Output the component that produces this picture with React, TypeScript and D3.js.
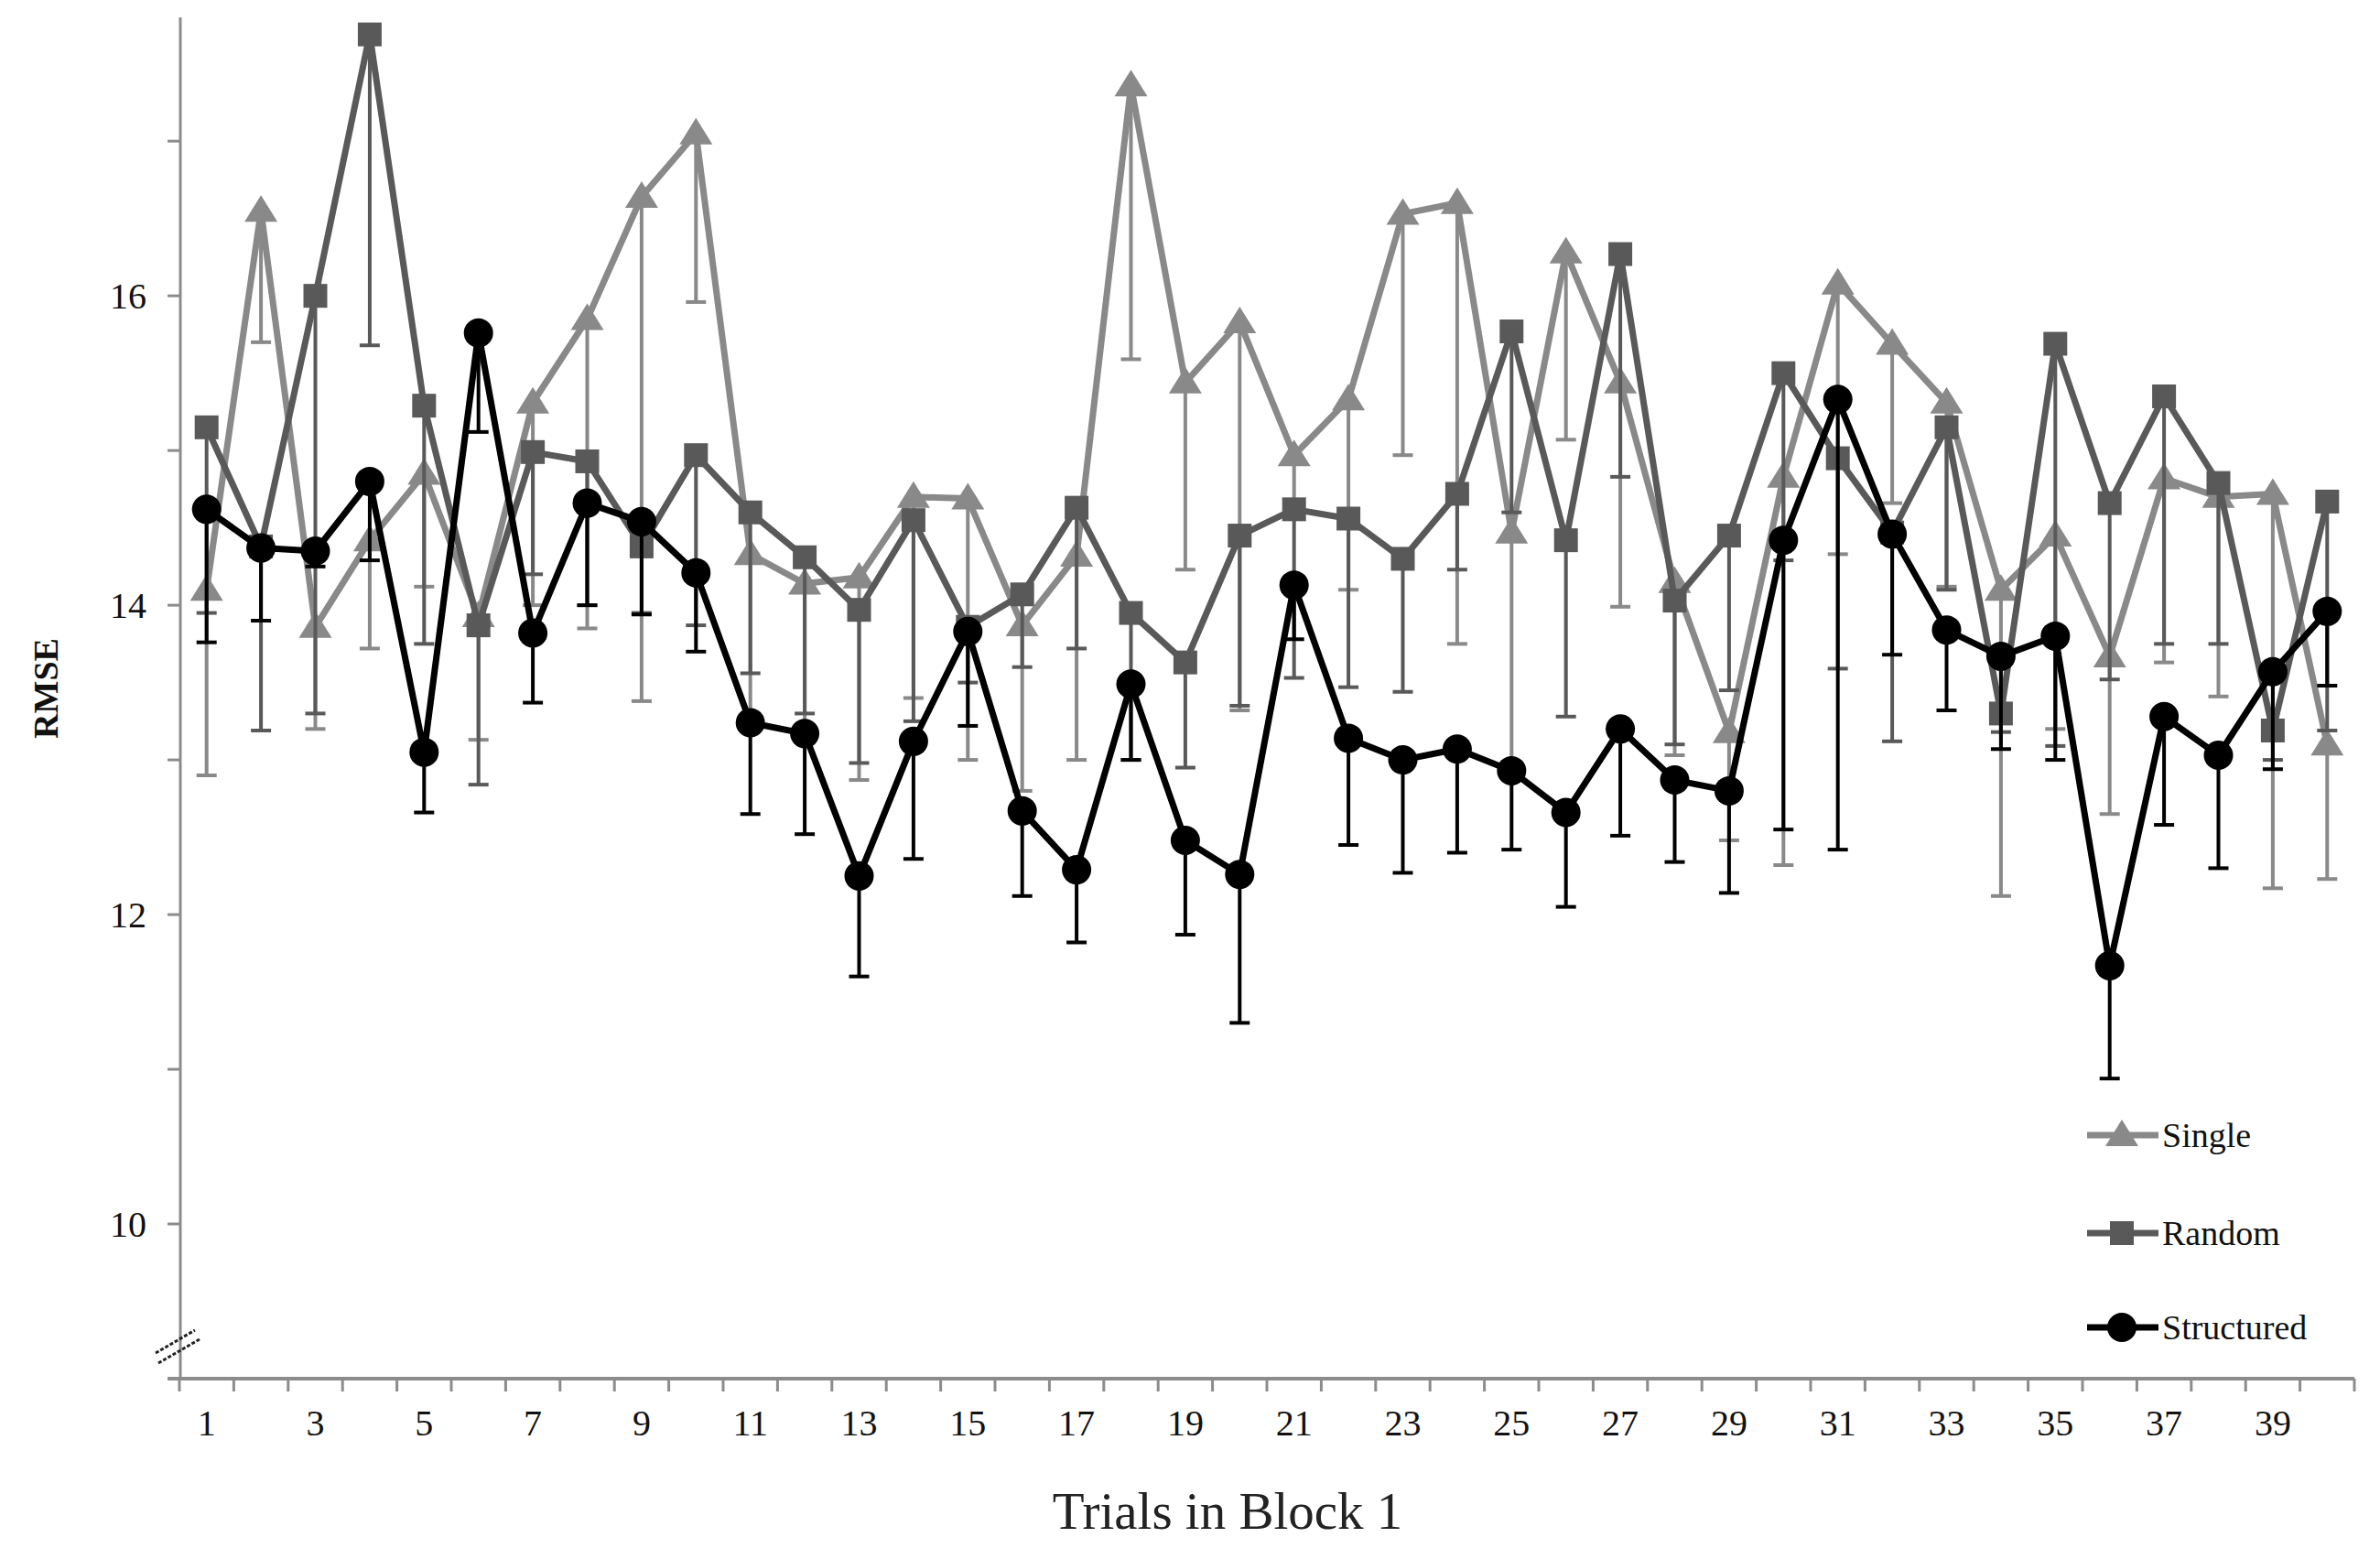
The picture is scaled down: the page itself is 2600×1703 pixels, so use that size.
import * as d3 from "d3";

const trials = d3.range(1, 41).map(String);

const single = [
  14.1, 16.55, 13.86, 14.42, 14.85, 13.93, 15.31, 15.85, 16.64, 17.05,
  14.33, 14.14, 14.18, 14.7, 14.69, 13.87, 14.32, 17.36, 15.44, 15.83,
  14.97, 15.33, 16.53, 16.6, 14.47, 16.28, 15.44, 14.15, 13.18, 14.83,
  16.08, 15.69, 15.31, 14.1, 14.45, 13.67, 14.82, 14.7, 14.72, 13.1,
];
const singleLow = [
  12.9, 15.7, 13.2, 13.72, 14.12, 13.13, 14.0, 13.85, 13.38, 15.96,
  13.3, 13.2, 12.87, 13.4, 13.0, 12.8, 13.0, 15.59, 14.23, 13.32,
  14.6, 14.1, 14.97, 13.75, 12.95, 15.07, 13.99, 13.03, 12.48, 12.32,
  14.33, 14.66, 14.12, 12.12, 13.2, 12.65, 13.63, 13.41, 12.17, 12.23,
];

const random = [
  15.15, 14.38, 16.0, 17.69, 15.29, 13.87, 14.99, 14.93, 14.38, 14.97,
  14.6, 14.31, 13.97, 14.55, 13.86, 14.07, 14.63, 13.95, 13.63, 14.45,
  14.62, 14.56, 14.3, 14.72, 15.77, 14.42, 16.27, 14.03, 14.45, 15.5,
  14.95, 14.47, 15.15, 13.3, 15.69, 14.66, 15.35, 14.79, 13.19, 14.67,
];
const randomLow = [
  13.95, 13.19, 13.3, 15.68, 13.75, 12.84, 14.2, 14.0, 13.95, 13.87,
  13.56, 13.3, 12.98, 13.25, 13.5, 13.6, 13.72, 13.0, 12.95, 13.35,
  13.53, 13.47, 13.44, 14.23, 14.6, 13.28, 14.83, 13.1, 13.45, 14.29,
  13.59, 13.12, 14.1, 13.18, 13.09, 13.52, 13.75, 13.75, 13.0, 13.19,
];

const structured = [
  14.62, 14.37, 14.35, 14.8, 13.05, 15.76, 13.82, 14.66, 14.54, 14.21,
  13.24, 13.17, 12.25, 13.12, 13.83, 12.67, 12.29, 13.49, 12.48, 12.26,
  14.13, 13.14, 13.0, 13.07, 12.93, 12.66, 13.2, 12.87, 12.8, 14.42,
  15.33, 14.46, 13.84, 13.67, 13.8, 11.67, 13.28, 13.03, 13.57, 13.96,
];
const structuredLow = [
  13.76, 13.9, 14.25, 14.29, 12.66, 15.12, 13.37, 14.0, 13.94, 13.7,
  12.65, 12.52, 11.6, 12.36, 13.22, 12.12, 11.82, 13.0, 11.87, 11.3,
  13.78, 12.45, 12.27, 12.4, 12.42, 12.05, 12.51, 12.34, 12.14, 12.55,
  12.42, 13.68, 13.32, 13.07, 13.0, 10.94, 12.58, 12.3, 12.94, 13.48,
];

const yTicks = [10, 11, 12, 13, 14, 15, 16, 17];
const yLabels = [10, 12, 14, 16];

type Series = {
  name: string;
  values: number[];
  low: number[];
  color: string;
  marker: "triangle" | "square" | "circle";
};

const series: Series[] = [
  { name: "Single", values: single, low: singleLow, color: "#898989", marker: "triangle" },
  { name: "Random", values: random, low: randomLow, color: "#595959", marker: "square" },
  { name: "Structured", values: structured, low: structuredLow, color: "#000000", marker: "circle" },
];

const W = 2600;
const H = 1703;
const FONT = "'Liberation Serif', 'Times New Roman', serif";

function Marker({ type, x, y, color }: { type: string; x: number; y: number; color: string }) {
  if (type === "triangle")
    return <path d={`M${x - 18},${y + 12}L${x + 18},${y + 12}L${x},${y - 17}Z`} fill={color} />;
  if (type === "square")
    return <rect x={x - 13} y={y - 13} width={26} height={26} fill={color} />;
  return <circle cx={x} cy={y} r={16} fill={color} />;
}

export default function App() {
  const x = d3.scaleBand().domain(trials).range([196, 2572]);
  const y = d3.scaleLinear().domain([9, 17.8]).range([1506, 19]);
  const cx = (t: string) => (x(t) as number) + x.bandwidth() / 2;

  const line = d3
    .line<number>()
    .x((_d, i) => cx(trials[i]))
    .y((d) => y(d));

  // tick marks sit between the categories, Excel style
  const boundaries = d3.range(0, trials.length + 1).map((i) => 196 + i * x.step());

  const legendRows = [1240, 1347, 1450];

  return (
    <svg
      width={W}
      height={H}
      viewBox={`0 0 ${W} ${H}`}
      style={{ position: "absolute", left: 0, top: 0, background: "#fff" }}
      fontFamily={FONT}
    >
      <rect width={W} height={H} fill="#fff" />

      {/* y axis */}
      <line x1={197} x2={197} y1={y(17.8)} y2={y(9)} stroke="#8c8c8c" strokeWidth={3} />
      {yTicks.map((t) => (
        <line key={t} x1={183} x2={197} y1={y(t)} y2={y(t)} stroke="#8c8c8c" strokeWidth={3} />
      ))}
      {yLabels.map((t) => (
        <text key={t} x={160} y={y(t)} dy="0.35em" textAnchor="end" fontSize={40} fill="#111">
          {t}
        </text>
      ))}
      <text
        transform={`translate(50,752) rotate(-90)`}
        textAnchor="middle"
        dy="0.35em"
        fontSize={38}
        fontWeight="bold"
        fill="#111"
      >
        RMSE
      </text>

      {/* axis break */}
      <line x1={170} x2={213} y1={1478} y2={1453} stroke="#222" strokeWidth={3} strokeDasharray="4 2" />
      <line x1={173} x2={218} y1={1489} y2={1463} stroke="#222" strokeWidth={3} strokeDasharray="4 2" />

      {/* x axis */}
      <line x1={183} x2={2572} y1={1506} y2={1506} stroke="#8c8c8c" strokeWidth={4} />
      {boundaries.map((b, i) => (
        <line key={i} x1={b} x2={b} y1={1506} y2={1520} stroke="#8c8c8c" strokeWidth={3} />
      ))}
      {trials
        .filter((_t, i) => i % 2 === 0)
        .map((t) => (
          <text key={t} x={cx(t)} y={1554} dy="0.35em" textAnchor="middle" fontSize={40} fill="#111">
            {t}
          </text>
        ))}
      <text x={1341} y={1670} textAnchor="middle" fontSize={57} fill="#222">
        Trials in Block 1
      </text>

      {/* series */}
      {series.map((s) => (
        <g key={s.name}>
          <path d={line(s.values) as string} fill="none" stroke={s.color} strokeWidth={7} strokeLinejoin="round" />
          {s.values.map((v, i) => {
            const px = cx(trials[i]);
            return (
              <g key={i}>
                <line x1={px} x2={px} y1={y(v)} y2={y(s.low[i])} stroke={s.color} strokeWidth={4} />
                <line x1={px - 11} x2={px + 11} y1={y(s.low[i])} y2={y(s.low[i])} stroke={s.color} strokeWidth={4} />
              </g>
            );
          })}
          {s.values.map((v, i) => (
            <Marker key={i} type={s.marker} x={cx(trials[i])} y={y(v)} color={s.color} />
          ))}
        </g>
      ))}

      {/* legend */}
      {series.map((s, i) => (
        <g key={s.name}>
          <line x1={2280} x2={2358} y1={legendRows[i]} y2={legendRows[i]} stroke={s.color} strokeWidth={7} />
          <Marker type={s.marker} x={2318} y={legendRows[i]} color={s.color} />
          <text x={2362} y={legendRows[i]} dy="0.33em" fontSize={38} fill="#111">
            {s.name}
          </text>
        </g>
      ))}
    </svg>
  );
}
